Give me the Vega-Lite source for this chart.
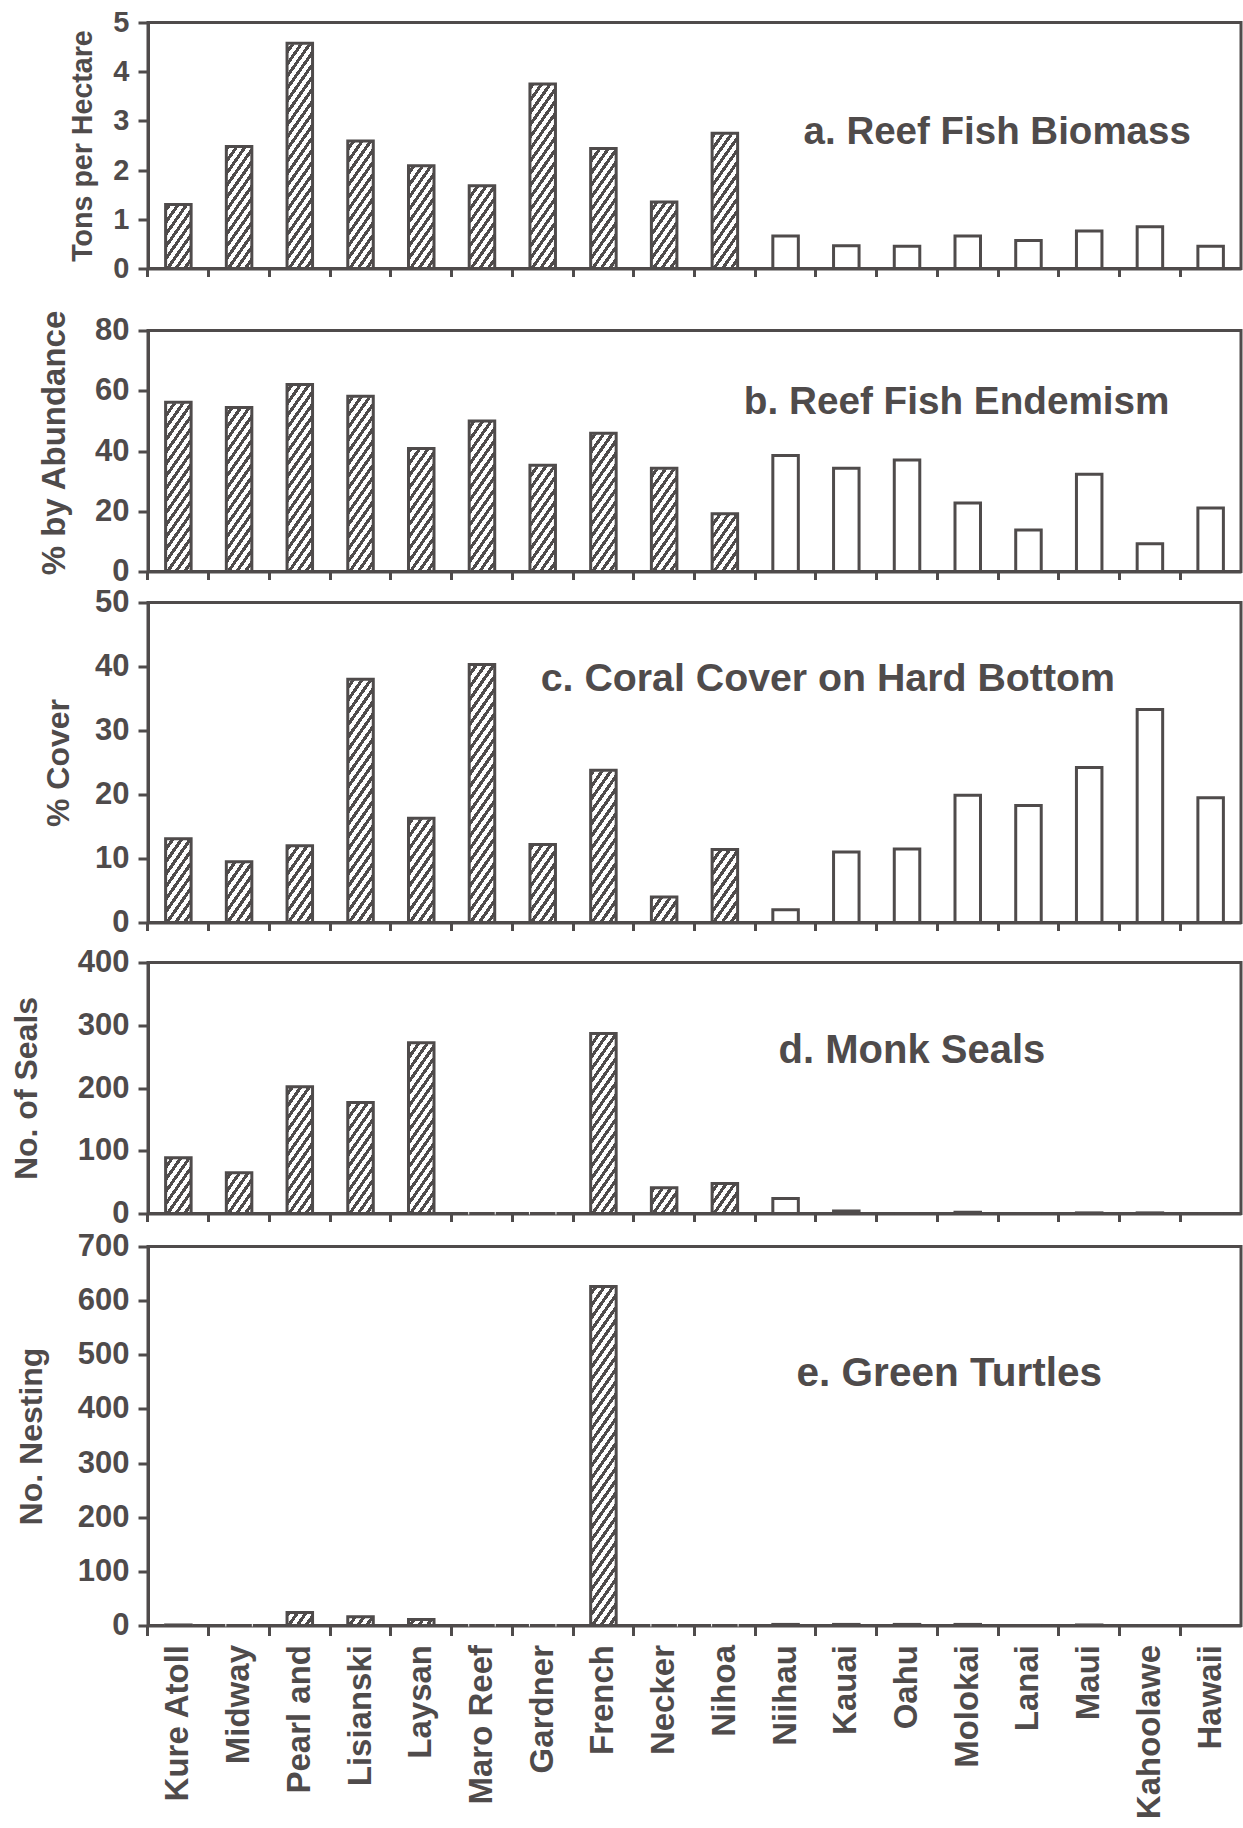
{
"$schema": "https://vega.github.io/schema/vega-lite/v6.json",
"background": "white",
"padding": {"left": 0, "top": 6.5, "right": 3, "bottom": 2},
"spacing": -6,
"datasets": {"islands": [
{"island": "Kure Atoll", "region": "NWHI", "biomass": 1.3, "endemism": 56.2, "coral": 13.1, "seals": 89, "turtles": 1},
{"island": "Midway", "region": "NWHI", "biomass": 2.48, "endemism": 54.4, "coral": 9.5, "seals": 65, "turtles": 0},
{"island": "Pearl and", "region": "NWHI", "biomass": 4.58, "endemism": 62.1, "coral": 12.0, "seals": 202, "turtles": 24},
{"island": "Lisianski", "region": "NWHI", "biomass": 2.59, "endemism": 58.2, "coral": 38.0, "seals": 177, "turtles": 16},
{"island": "Laysan", "region": "NWHI", "biomass": 2.09, "endemism": 40.8, "coral": 16.3, "seals": 272, "turtles": 11},
{"island": "Maro Reef", "region": "NWHI", "biomass": 1.68, "endemism": 50.0, "coral": 40.3, "seals": 0, "turtles": 0},
{"island": "Gardner", "region": "NWHI", "biomass": 3.75, "endemism": 35.3, "coral": 12.2, "seals": 0, "turtles": 0},
{"island": "French", "region": "NWHI", "biomass": 2.44, "endemism": 45.9, "coral": 23.8, "seals": 287, "turtles": 626},
{"island": "Necker", "region": "NWHI", "biomass": 1.35, "endemism": 34.3, "coral": 4.0, "seals": 41, "turtles": 0},
{"island": "Nihoa", "region": "NWHI", "biomass": 2.75, "endemism": 19.2, "coral": 11.4, "seals": 48, "turtles": 0},
{"island": "Niihau", "region": "MHI", "biomass": 0.66, "endemism": 38.5, "coral": 2.0, "seals": 24, "turtles": 2},
{"island": "Kauai", "region": "MHI", "biomass": 0.46, "endemism": 34.3, "coral": 11.0, "seals": 4, "turtles": 2},
{"island": "Oahu", "region": "MHI", "biomass": 0.45, "endemism": 37.0, "coral": 11.5, "seals": 0, "turtles": 2},
{"island": "Molokai", "region": "MHI", "biomass": 0.66, "endemism": 22.7, "coral": 19.9, "seals": 2, "turtles": 2},
{"island": "Lanai", "region": "MHI", "biomass": 0.57, "endemism": 13.8, "coral": 18.3, "seals": 0, "turtles": 0},
{"island": "Maui", "region": "MHI", "biomass": 0.76, "endemism": 32.3, "coral": 24.2, "seals": 1, "turtles": 1},
{"island": "Kahoolawe", "region": "MHI", "biomass": 0.85, "endemism": 9.2, "coral": 33.3, "seals": 1, "turtles": 0},
{"island": "Hawaii", "region": "MHI", "biomass": 0.45, "endemism": 21.1, "coral": 19.5, "seals": 0, "turtles": 0}
]},
"vconcat": [
{
 "width": 1093, "height": 246,
 "data": {"name": "islands"},
 "encoding": {"x": {"field": "island", "type": "nominal", "scale": {"domain": ["Kure Atoll","Midway","Pearl and","Lisianski","Laysan","Maro Reef","Gardner","French","Necker","Nihoa","Niihau","Kauai","Oahu","Molokai","Lanai","Maui","Kahoolawe","Hawaii"], "paddingInner": 0.58, "paddingOuter": 0.29}, "axis": {"title": null, "labels": false, "minExtent": 42.8, "maxExtent": 42.8}}},
 "layer": [
  {"transform": [{"filter": "datum.region == 'NWHI'"}],
   "mark": {"type": "bar", "strokeWidth": 0, "fill": {"gradient": "linear", "x1": 0, "y1": 0, "x2": 0.1781, "y2": 1.1296, "stops": [
{"offset":0,"color":"#4f4b4b"},{"offset":0.02045,"color":"#4f4b4b"},{"offset":0.02045,"color":"#fff"},{"offset":0.04545,"color":"#fff"},
{"offset":0.04545,"color":"#4f4b4b"},{"offset":0.06591,"color":"#4f4b4b"},{"offset":0.06591,"color":"#fff"},{"offset":0.09091,"color":"#fff"},
{"offset":0.09091,"color":"#4f4b4b"},{"offset":0.11136,"color":"#4f4b4b"},{"offset":0.11136,"color":"#fff"},{"offset":0.13636,"color":"#fff"},
{"offset":0.13636,"color":"#4f4b4b"},{"offset":0.15682,"color":"#4f4b4b"},{"offset":0.15682,"color":"#fff"},{"offset":0.18182,"color":"#fff"},
{"offset":0.18182,"color":"#4f4b4b"},{"offset":0.20227,"color":"#4f4b4b"},{"offset":0.20227,"color":"#fff"},{"offset":0.22727,"color":"#fff"},
{"offset":0.22727,"color":"#4f4b4b"},{"offset":0.24773,"color":"#4f4b4b"},{"offset":0.24773,"color":"#fff"},{"offset":0.27273,"color":"#fff"},
{"offset":0.27273,"color":"#4f4b4b"},{"offset":0.29318,"color":"#4f4b4b"},{"offset":0.29318,"color":"#fff"},{"offset":0.31818,"color":"#fff"},
{"offset":0.31818,"color":"#4f4b4b"},{"offset":0.33864,"color":"#4f4b4b"},{"offset":0.33864,"color":"#fff"},{"offset":0.36364,"color":"#fff"},
{"offset":0.36364,"color":"#4f4b4b"},{"offset":0.38409,"color":"#4f4b4b"},{"offset":0.38409,"color":"#fff"},{"offset":0.40909,"color":"#fff"},
{"offset":0.40909,"color":"#4f4b4b"},{"offset":0.42955,"color":"#4f4b4b"},{"offset":0.42955,"color":"#fff"},{"offset":0.45455,"color":"#fff"},
{"offset":0.45455,"color":"#4f4b4b"},{"offset":0.475,"color":"#4f4b4b"},{"offset":0.475,"color":"#fff"},{"offset":0.5,"color":"#fff"},
{"offset":0.5,"color":"#4f4b4b"},{"offset":0.52045,"color":"#4f4b4b"},{"offset":0.52045,"color":"#fff"},{"offset":0.54545,"color":"#fff"},
{"offset":0.54545,"color":"#4f4b4b"},{"offset":0.56591,"color":"#4f4b4b"},{"offset":0.56591,"color":"#fff"},{"offset":0.59091,"color":"#fff"},
{"offset":0.59091,"color":"#4f4b4b"},{"offset":0.61136,"color":"#4f4b4b"},{"offset":0.61136,"color":"#fff"},{"offset":0.63636,"color":"#fff"},
{"offset":0.63636,"color":"#4f4b4b"},{"offset":0.65682,"color":"#4f4b4b"},{"offset":0.65682,"color":"#fff"},{"offset":0.68182,"color":"#fff"},
{"offset":0.68182,"color":"#4f4b4b"},{"offset":0.70227,"color":"#4f4b4b"},{"offset":0.70227,"color":"#fff"},{"offset":0.72727,"color":"#fff"},
{"offset":0.72727,"color":"#4f4b4b"},{"offset":0.74773,"color":"#4f4b4b"},{"offset":0.74773,"color":"#fff"},{"offset":0.77273,"color":"#fff"},
{"offset":0.77273,"color":"#4f4b4b"},{"offset":0.79318,"color":"#4f4b4b"},{"offset":0.79318,"color":"#fff"},{"offset":0.81818,"color":"#fff"},
{"offset":0.81818,"color":"#4f4b4b"},{"offset":0.83864,"color":"#4f4b4b"},{"offset":0.83864,"color":"#fff"},{"offset":0.86364,"color":"#fff"},
{"offset":0.86364,"color":"#4f4b4b"},{"offset":0.88409,"color":"#4f4b4b"},{"offset":0.88409,"color":"#fff"},{"offset":0.90909,"color":"#fff"},
{"offset":0.90909,"color":"#4f4b4b"},{"offset":0.92955,"color":"#4f4b4b"},{"offset":0.92955,"color":"#fff"},{"offset":0.95455,"color":"#fff"},
{"offset":0.95455,"color":"#4f4b4b"},{"offset":0.975,"color":"#4f4b4b"},{"offset":0.975,"color":"#fff"},{"offset":1,"color":"#fff"}
   ]}},
   "encoding": {"y": {"datum": 0}, "y2": {"datum": 4.7}}},
  {"transform": [{"filter": "datum.region == 'NWHI'"}],
   "mark": {"type": "bar", "fill": "#ffffff", "stroke": "#ffffff", "strokeWidth": 2},
   "encoding": {"y": {"field": "biomass", "type": "quantitative"}, "y2": {"datum": 4.7}}},
  {"mark": {"type": "bar", "fill": "transparent", "stroke": "#4f4b4b", "strokeWidth": 3},
   "encoding": {"y": {"field": "biomass", "type": "quantitative", "scale": {"domain": [0, 5], "nice": false},
     "axis": {"values": [0,1,2,3,4,5], "title": "Tons per Hectare", "titleFontSize": 28.6, "labelFontSize": 29, "titleX": -66}}}},
  {"data": {"values": [{"label": "a. Reef Fish Biomass"}]},
   "mark": {"type": "text", "align": "left", "baseline": "middle", "dx": 18, "fontSize": 38.5, "fontWeight": "bold", "font": "Liberation Sans", "fill": "#4f4b4b"},
   "encoding": {"x": {"datum": "Niihau"}, "y": {"datum": 2.77}, "text": {"field": "label"}}}
 ]
},
{
 "width": 1093, "height": 241,
 "data": {"name": "islands"},
 "encoding": {"x": {"field": "island", "type": "nominal", "scale": {"domain": ["Kure Atoll","Midway","Pearl and","Lisianski","Laysan","Maro Reef","Gardner","French","Necker","Nihoa","Niihau","Kauai","Oahu","Molokai","Lanai","Maui","Kahoolawe","Hawaii"], "paddingInner": 0.58, "paddingOuter": 0.29}, "axis": {"title": null, "labels": false, "minExtent": 17.3, "maxExtent": 17.3}}},
 "layer": [
  {"transform": [{"filter": "datum.region == 'NWHI'"}],
   "mark": {"type": "bar", "strokeWidth": 0, "fill": {"gradient": "linear", "x1": 0, "y1": 0, "x2": 0.1781, "y2": 1.1296, "stops": [
{"offset":0,"color":"#4f4b4b"},{"offset":0.02045,"color":"#4f4b4b"},{"offset":0.02045,"color":"#fff"},{"offset":0.04545,"color":"#fff"},
{"offset":0.04545,"color":"#4f4b4b"},{"offset":0.06591,"color":"#4f4b4b"},{"offset":0.06591,"color":"#fff"},{"offset":0.09091,"color":"#fff"},
{"offset":0.09091,"color":"#4f4b4b"},{"offset":0.11136,"color":"#4f4b4b"},{"offset":0.11136,"color":"#fff"},{"offset":0.13636,"color":"#fff"},
{"offset":0.13636,"color":"#4f4b4b"},{"offset":0.15682,"color":"#4f4b4b"},{"offset":0.15682,"color":"#fff"},{"offset":0.18182,"color":"#fff"},
{"offset":0.18182,"color":"#4f4b4b"},{"offset":0.20227,"color":"#4f4b4b"},{"offset":0.20227,"color":"#fff"},{"offset":0.22727,"color":"#fff"},
{"offset":0.22727,"color":"#4f4b4b"},{"offset":0.24773,"color":"#4f4b4b"},{"offset":0.24773,"color":"#fff"},{"offset":0.27273,"color":"#fff"},
{"offset":0.27273,"color":"#4f4b4b"},{"offset":0.29318,"color":"#4f4b4b"},{"offset":0.29318,"color":"#fff"},{"offset":0.31818,"color":"#fff"},
{"offset":0.31818,"color":"#4f4b4b"},{"offset":0.33864,"color":"#4f4b4b"},{"offset":0.33864,"color":"#fff"},{"offset":0.36364,"color":"#fff"},
{"offset":0.36364,"color":"#4f4b4b"},{"offset":0.38409,"color":"#4f4b4b"},{"offset":0.38409,"color":"#fff"},{"offset":0.40909,"color":"#fff"},
{"offset":0.40909,"color":"#4f4b4b"},{"offset":0.42955,"color":"#4f4b4b"},{"offset":0.42955,"color":"#fff"},{"offset":0.45455,"color":"#fff"},
{"offset":0.45455,"color":"#4f4b4b"},{"offset":0.475,"color":"#4f4b4b"},{"offset":0.475,"color":"#fff"},{"offset":0.5,"color":"#fff"},
{"offset":0.5,"color":"#4f4b4b"},{"offset":0.52045,"color":"#4f4b4b"},{"offset":0.52045,"color":"#fff"},{"offset":0.54545,"color":"#fff"},
{"offset":0.54545,"color":"#4f4b4b"},{"offset":0.56591,"color":"#4f4b4b"},{"offset":0.56591,"color":"#fff"},{"offset":0.59091,"color":"#fff"},
{"offset":0.59091,"color":"#4f4b4b"},{"offset":0.61136,"color":"#4f4b4b"},{"offset":0.61136,"color":"#fff"},{"offset":0.63636,"color":"#fff"},
{"offset":0.63636,"color":"#4f4b4b"},{"offset":0.65682,"color":"#4f4b4b"},{"offset":0.65682,"color":"#fff"},{"offset":0.68182,"color":"#fff"},
{"offset":0.68182,"color":"#4f4b4b"},{"offset":0.70227,"color":"#4f4b4b"},{"offset":0.70227,"color":"#fff"},{"offset":0.72727,"color":"#fff"},
{"offset":0.72727,"color":"#4f4b4b"},{"offset":0.74773,"color":"#4f4b4b"},{"offset":0.74773,"color":"#fff"},{"offset":0.77273,"color":"#fff"},
{"offset":0.77273,"color":"#4f4b4b"},{"offset":0.79318,"color":"#4f4b4b"},{"offset":0.79318,"color":"#fff"},{"offset":0.81818,"color":"#fff"},
{"offset":0.81818,"color":"#4f4b4b"},{"offset":0.83864,"color":"#4f4b4b"},{"offset":0.83864,"color":"#fff"},{"offset":0.86364,"color":"#fff"},
{"offset":0.86364,"color":"#4f4b4b"},{"offset":0.88409,"color":"#4f4b4b"},{"offset":0.88409,"color":"#fff"},{"offset":0.90909,"color":"#fff"},
{"offset":0.90909,"color":"#4f4b4b"},{"offset":0.92955,"color":"#4f4b4b"},{"offset":0.92955,"color":"#fff"},{"offset":0.95455,"color":"#fff"},
{"offset":0.95455,"color":"#4f4b4b"},{"offset":0.975,"color":"#4f4b4b"},{"offset":0.975,"color":"#fff"},{"offset":1,"color":"#fff"}
   ]}},
   "encoding": {"y": {"datum": 0}, "y2": {"datum": 76.75}}},
  {"transform": [{"filter": "datum.region == 'NWHI'"}],
   "mark": {"type": "bar", "fill": "#ffffff", "stroke": "#ffffff", "strokeWidth": 2},
   "encoding": {"y": {"field": "endemism", "type": "quantitative"}, "y2": {"datum": 76.75}}},
  {"mark": {"type": "bar", "fill": "transparent", "stroke": "#4f4b4b", "strokeWidth": 3},
   "encoding": {"y": {"field": "endemism", "type": "quantitative", "scale": {"domain": [0, 80], "nice": false},
     "axis": {"values": [0,20,40,60,80], "title": "% by Abundance", "titleFontSize": 33, "titleX": -94, "titleY": 112}}}},
  {"data": {"values": [{"label": "b. Reef Fish Endemism"}]},
   "mark": {"type": "text", "align": "left", "baseline": "middle", "dx": 19, "fontSize": 38.7, "fontWeight": "bold", "font": "Liberation Sans", "fill": "#4f4b4b"},
   "encoding": {"x": {"datum": "Nihoa"}, "y": {"datum": 56.4}, "text": {"field": "label"}}}
 ]
},
{
 "width": 1093, "height": 320,
 "data": {"name": "islands"},
 "encoding": {"x": {"field": "island", "type": "nominal", "scale": {"domain": ["Kure Atoll","Midway","Pearl and","Lisianski","Laysan","Maro Reef","Gardner","French","Necker","Nihoa","Niihau","Kauai","Oahu","Molokai","Lanai","Maui","Kahoolawe","Hawaii"], "paddingInner": 0.58, "paddingOuter": 0.29}, "axis": {"title": null, "labels": false, "minExtent": 26.5, "maxExtent": 26.5}}},
 "layer": [
  {"transform": [{"filter": "datum.region == 'NWHI'"}],
   "mark": {"type": "bar", "strokeWidth": 0, "fill": {"gradient": "linear", "x1": 0, "y1": 0, "x2": 0.1552, "y2": 1.1173, "stops": [
{"offset":0,"color":"#4f4b4b"},{"offset":0.01875,"color":"#4f4b4b"},{"offset":0.01875,"color":"#fff"},{"offset":0.04167,"color":"#fff"},
{"offset":0.04167,"color":"#4f4b4b"},{"offset":0.06042,"color":"#4f4b4b"},{"offset":0.06042,"color":"#fff"},{"offset":0.08333,"color":"#fff"},
{"offset":0.08333,"color":"#4f4b4b"},{"offset":0.10208,"color":"#4f4b4b"},{"offset":0.10208,"color":"#fff"},{"offset":0.125,"color":"#fff"},
{"offset":0.125,"color":"#4f4b4b"},{"offset":0.14375,"color":"#4f4b4b"},{"offset":0.14375,"color":"#fff"},{"offset":0.16667,"color":"#fff"},
{"offset":0.16667,"color":"#4f4b4b"},{"offset":0.18542,"color":"#4f4b4b"},{"offset":0.18542,"color":"#fff"},{"offset":0.20833,"color":"#fff"},
{"offset":0.20833,"color":"#4f4b4b"},{"offset":0.22708,"color":"#4f4b4b"},{"offset":0.22708,"color":"#fff"},{"offset":0.25,"color":"#fff"},
{"offset":0.25,"color":"#4f4b4b"},{"offset":0.26875,"color":"#4f4b4b"},{"offset":0.26875,"color":"#fff"},{"offset":0.29167,"color":"#fff"},
{"offset":0.29167,"color":"#4f4b4b"},{"offset":0.31042,"color":"#4f4b4b"},{"offset":0.31042,"color":"#fff"},{"offset":0.33333,"color":"#fff"},
{"offset":0.33333,"color":"#4f4b4b"},{"offset":0.35208,"color":"#4f4b4b"},{"offset":0.35208,"color":"#fff"},{"offset":0.375,"color":"#fff"},
{"offset":0.375,"color":"#4f4b4b"},{"offset":0.39375,"color":"#4f4b4b"},{"offset":0.39375,"color":"#fff"},{"offset":0.41667,"color":"#fff"},
{"offset":0.41667,"color":"#4f4b4b"},{"offset":0.43542,"color":"#4f4b4b"},{"offset":0.43542,"color":"#fff"},{"offset":0.45833,"color":"#fff"},
{"offset":0.45833,"color":"#4f4b4b"},{"offset":0.47708,"color":"#4f4b4b"},{"offset":0.47708,"color":"#fff"},{"offset":0.5,"color":"#fff"},
{"offset":0.5,"color":"#4f4b4b"},{"offset":0.51875,"color":"#4f4b4b"},{"offset":0.51875,"color":"#fff"},{"offset":0.54167,"color":"#fff"},
{"offset":0.54167,"color":"#4f4b4b"},{"offset":0.56042,"color":"#4f4b4b"},{"offset":0.56042,"color":"#fff"},{"offset":0.58333,"color":"#fff"},
{"offset":0.58333,"color":"#4f4b4b"},{"offset":0.60208,"color":"#4f4b4b"},{"offset":0.60208,"color":"#fff"},{"offset":0.625,"color":"#fff"},
{"offset":0.625,"color":"#4f4b4b"},{"offset":0.64375,"color":"#4f4b4b"},{"offset":0.64375,"color":"#fff"},{"offset":0.66667,"color":"#fff"},
{"offset":0.66667,"color":"#4f4b4b"},{"offset":0.68542,"color":"#4f4b4b"},{"offset":0.68542,"color":"#fff"},{"offset":0.70833,"color":"#fff"},
{"offset":0.70833,"color":"#4f4b4b"},{"offset":0.72708,"color":"#4f4b4b"},{"offset":0.72708,"color":"#fff"},{"offset":0.75,"color":"#fff"},
{"offset":0.75,"color":"#4f4b4b"},{"offset":0.76875,"color":"#4f4b4b"},{"offset":0.76875,"color":"#fff"},{"offset":0.79167,"color":"#fff"},
{"offset":0.79167,"color":"#4f4b4b"},{"offset":0.81042,"color":"#4f4b4b"},{"offset":0.81042,"color":"#fff"},{"offset":0.83333,"color":"#fff"},
{"offset":0.83333,"color":"#4f4b4b"},{"offset":0.85208,"color":"#4f4b4b"},{"offset":0.85208,"color":"#fff"},{"offset":0.875,"color":"#fff"},
{"offset":0.875,"color":"#4f4b4b"},{"offset":0.89375,"color":"#4f4b4b"},{"offset":0.89375,"color":"#fff"},{"offset":0.91667,"color":"#fff"},
{"offset":0.91667,"color":"#4f4b4b"},{"offset":0.93542,"color":"#4f4b4b"},{"offset":0.93542,"color":"#fff"},{"offset":0.95833,"color":"#fff"},
{"offset":0.95833,"color":"#4f4b4b"},{"offset":0.97708,"color":"#4f4b4b"},{"offset":0.97708,"color":"#fff"},{"offset":1,"color":"#fff"}
   ]}},
   "encoding": {"y": {"datum": 0}, "y2": {"datum": 41}}},
  {"transform": [{"filter": "datum.region == 'NWHI'"}],
   "mark": {"type": "bar", "fill": "#ffffff", "stroke": "#ffffff", "strokeWidth": 2},
   "encoding": {"y": {"field": "coral", "type": "quantitative"}, "y2": {"datum": 41}}},
  {"mark": {"type": "bar", "fill": "transparent", "stroke": "#4f4b4b", "strokeWidth": 3},
   "encoding": {"y": {"field": "coral", "type": "quantitative", "scale": {"domain": [0, 50], "nice": false},
     "axis": {"values": [0,10,20,30,40,50], "title": "% Cover", "titleX": -90}}}},
  {"data": {"values": [{"label": "c. Coral Cover on Hard Bottom"}]},
   "mark": {"type": "text", "align": "left", "baseline": "middle", "dx": -2, "fontSize": 39.3, "fontWeight": "bold", "font": "Liberation Sans", "fill": "#4f4b4b"},
   "encoding": {"x": {"datum": "Gardner"}, "y": {"datum": 38.0}, "text": {"field": "label"}}}
 ]
},
{
 "width": 1093, "height": 251,
 "data": {"name": "islands"},
 "encoding": {"x": {"field": "island", "type": "nominal", "scale": {"domain": ["Kure Atoll","Midway","Pearl and","Lisianski","Laysan","Maro Reef","Gardner","French","Necker","Nihoa","Niihau","Kauai","Oahu","Molokai","Lanai","Maui","Kahoolawe","Hawaii"], "paddingInner": 0.58, "paddingOuter": 0.29}, "axis": {"title": null, "labels": false, "minExtent": 19.4, "maxExtent": 19.4}}},
 "layer": [
  {"transform": [{"filter": "datum.region == 'NWHI'"}],
   "mark": {"type": "bar", "strokeWidth": 0, "fill": {"gradient": "linear", "x1": 0, "y1": 0, "x2": 0.1781, "y2": 1.1296, "stops": [
{"offset":0,"color":"#4f4b4b"},{"offset":0.02045,"color":"#4f4b4b"},{"offset":0.02045,"color":"#fff"},{"offset":0.04545,"color":"#fff"},
{"offset":0.04545,"color":"#4f4b4b"},{"offset":0.06591,"color":"#4f4b4b"},{"offset":0.06591,"color":"#fff"},{"offset":0.09091,"color":"#fff"},
{"offset":0.09091,"color":"#4f4b4b"},{"offset":0.11136,"color":"#4f4b4b"},{"offset":0.11136,"color":"#fff"},{"offset":0.13636,"color":"#fff"},
{"offset":0.13636,"color":"#4f4b4b"},{"offset":0.15682,"color":"#4f4b4b"},{"offset":0.15682,"color":"#fff"},{"offset":0.18182,"color":"#fff"},
{"offset":0.18182,"color":"#4f4b4b"},{"offset":0.20227,"color":"#4f4b4b"},{"offset":0.20227,"color":"#fff"},{"offset":0.22727,"color":"#fff"},
{"offset":0.22727,"color":"#4f4b4b"},{"offset":0.24773,"color":"#4f4b4b"},{"offset":0.24773,"color":"#fff"},{"offset":0.27273,"color":"#fff"},
{"offset":0.27273,"color":"#4f4b4b"},{"offset":0.29318,"color":"#4f4b4b"},{"offset":0.29318,"color":"#fff"},{"offset":0.31818,"color":"#fff"},
{"offset":0.31818,"color":"#4f4b4b"},{"offset":0.33864,"color":"#4f4b4b"},{"offset":0.33864,"color":"#fff"},{"offset":0.36364,"color":"#fff"},
{"offset":0.36364,"color":"#4f4b4b"},{"offset":0.38409,"color":"#4f4b4b"},{"offset":0.38409,"color":"#fff"},{"offset":0.40909,"color":"#fff"},
{"offset":0.40909,"color":"#4f4b4b"},{"offset":0.42955,"color":"#4f4b4b"},{"offset":0.42955,"color":"#fff"},{"offset":0.45455,"color":"#fff"},
{"offset":0.45455,"color":"#4f4b4b"},{"offset":0.475,"color":"#4f4b4b"},{"offset":0.475,"color":"#fff"},{"offset":0.5,"color":"#fff"},
{"offset":0.5,"color":"#4f4b4b"},{"offset":0.52045,"color":"#4f4b4b"},{"offset":0.52045,"color":"#fff"},{"offset":0.54545,"color":"#fff"},
{"offset":0.54545,"color":"#4f4b4b"},{"offset":0.56591,"color":"#4f4b4b"},{"offset":0.56591,"color":"#fff"},{"offset":0.59091,"color":"#fff"},
{"offset":0.59091,"color":"#4f4b4b"},{"offset":0.61136,"color":"#4f4b4b"},{"offset":0.61136,"color":"#fff"},{"offset":0.63636,"color":"#fff"},
{"offset":0.63636,"color":"#4f4b4b"},{"offset":0.65682,"color":"#4f4b4b"},{"offset":0.65682,"color":"#fff"},{"offset":0.68182,"color":"#fff"},
{"offset":0.68182,"color":"#4f4b4b"},{"offset":0.70227,"color":"#4f4b4b"},{"offset":0.70227,"color":"#fff"},{"offset":0.72727,"color":"#fff"},
{"offset":0.72727,"color":"#4f4b4b"},{"offset":0.74773,"color":"#4f4b4b"},{"offset":0.74773,"color":"#fff"},{"offset":0.77273,"color":"#fff"},
{"offset":0.77273,"color":"#4f4b4b"},{"offset":0.79318,"color":"#4f4b4b"},{"offset":0.79318,"color":"#fff"},{"offset":0.81818,"color":"#fff"},
{"offset":0.81818,"color":"#4f4b4b"},{"offset":0.83864,"color":"#4f4b4b"},{"offset":0.83864,"color":"#fff"},{"offset":0.86364,"color":"#fff"},
{"offset":0.86364,"color":"#4f4b4b"},{"offset":0.88409,"color":"#4f4b4b"},{"offset":0.88409,"color":"#fff"},{"offset":0.90909,"color":"#fff"},
{"offset":0.90909,"color":"#4f4b4b"},{"offset":0.92955,"color":"#4f4b4b"},{"offset":0.92955,"color":"#fff"},{"offset":0.95455,"color":"#fff"},
{"offset":0.95455,"color":"#4f4b4b"},{"offset":0.975,"color":"#4f4b4b"},{"offset":0.975,"color":"#fff"},{"offset":1,"color":"#fff"}
   ]}},
   "encoding": {"y": {"datum": 0}, "y2": {"datum": 368.4}}},
  {"transform": [{"filter": "datum.region == 'NWHI'"}],
   "mark": {"type": "bar", "fill": "#ffffff", "stroke": "#ffffff", "strokeWidth": 2},
   "encoding": {"y": {"field": "seals", "type": "quantitative"}, "y2": {"datum": 368.4}}},
  {"mark": {"type": "bar", "fill": "transparent", "stroke": "#4f4b4b", "strokeWidth": 3},
   "encoding": {"y": {"field": "seals", "type": "quantitative", "scale": {"domain": [0, 400], "nice": false},
     "axis": {"values": [0,100,200,300,400], "title": "No. of Seals", "titleX": -122}}}},
  {"data": {"values": [{"label": "d. Monk Seals"}]},
   "mark": {"type": "text", "align": "left", "baseline": "middle", "dx": -7, "fontSize": 40, "fontWeight": "bold", "font": "Liberation Sans", "fill": "#4f4b4b"},
   "encoding": {"x": {"datum": "Niihau"}, "y": {"datum": 258.6}, "text": {"field": "label"}}}
 ]
},
{
 "width": 1093, "height": 379,
 "data": {"name": "islands"},
 "encoding": {"x": {"field": "island", "type": "nominal", "scale": {"domain": ["Kure Atoll","Midway","Pearl and","Lisianski","Laysan","Maro Reef","Gardner","French","Necker","Nihoa","Niihau","Kauai","Oahu","Molokai","Lanai","Maui","Kahoolawe","Hawaii"], "paddingInner": 0.58, "paddingOuter": 0.29}, "axis": {"title": null, "labels": true, "labelAngle": 270, "labelAlign": "right", "labelBaseline": "middle", "labelFontSize": 33, "labelPadding": 9, "labelOffset": 0, "tickSize": 10}}},
 "layer": [
  {"transform": [{"filter": "datum.region == 'NWHI'"}],
   "mark": {"type": "bar", "strokeWidth": 0, "fill": {"gradient": "linear", "x1": 0, "y1": 0, "x2": 0.115, "y2": 1.0931, "stops": [
{"offset":0,"color":"#4f4b4b"},{"offset":0.01452,"color":"#4f4b4b"},{"offset":0.01452,"color":"#fff"},{"offset":0.03226,"color":"#fff"},
{"offset":0.03226,"color":"#4f4b4b"},{"offset":0.04677,"color":"#4f4b4b"},{"offset":0.04677,"color":"#fff"},{"offset":0.06452,"color":"#fff"},
{"offset":0.06452,"color":"#4f4b4b"},{"offset":0.07903,"color":"#4f4b4b"},{"offset":0.07903,"color":"#fff"},{"offset":0.09677,"color":"#fff"},
{"offset":0.09677,"color":"#4f4b4b"},{"offset":0.11129,"color":"#4f4b4b"},{"offset":0.11129,"color":"#fff"},{"offset":0.12903,"color":"#fff"},
{"offset":0.12903,"color":"#4f4b4b"},{"offset":0.14355,"color":"#4f4b4b"},{"offset":0.14355,"color":"#fff"},{"offset":0.16129,"color":"#fff"},
{"offset":0.16129,"color":"#4f4b4b"},{"offset":0.17581,"color":"#4f4b4b"},{"offset":0.17581,"color":"#fff"},{"offset":0.19355,"color":"#fff"},
{"offset":0.19355,"color":"#4f4b4b"},{"offset":0.20806,"color":"#4f4b4b"},{"offset":0.20806,"color":"#fff"},{"offset":0.22581,"color":"#fff"},
{"offset":0.22581,"color":"#4f4b4b"},{"offset":0.24032,"color":"#4f4b4b"},{"offset":0.24032,"color":"#fff"},{"offset":0.25806,"color":"#fff"},
{"offset":0.25806,"color":"#4f4b4b"},{"offset":0.27258,"color":"#4f4b4b"},{"offset":0.27258,"color":"#fff"},{"offset":0.29032,"color":"#fff"},
{"offset":0.29032,"color":"#4f4b4b"},{"offset":0.30484,"color":"#4f4b4b"},{"offset":0.30484,"color":"#fff"},{"offset":0.32258,"color":"#fff"},
{"offset":0.32258,"color":"#4f4b4b"},{"offset":0.3371,"color":"#4f4b4b"},{"offset":0.3371,"color":"#fff"},{"offset":0.35484,"color":"#fff"},
{"offset":0.35484,"color":"#4f4b4b"},{"offset":0.36935,"color":"#4f4b4b"},{"offset":0.36935,"color":"#fff"},{"offset":0.3871,"color":"#fff"},
{"offset":0.3871,"color":"#4f4b4b"},{"offset":0.40161,"color":"#4f4b4b"},{"offset":0.40161,"color":"#fff"},{"offset":0.41935,"color":"#fff"},
{"offset":0.41935,"color":"#4f4b4b"},{"offset":0.43387,"color":"#4f4b4b"},{"offset":0.43387,"color":"#fff"},{"offset":0.45161,"color":"#fff"},
{"offset":0.45161,"color":"#4f4b4b"},{"offset":0.46613,"color":"#4f4b4b"},{"offset":0.46613,"color":"#fff"},{"offset":0.48387,"color":"#fff"},
{"offset":0.48387,"color":"#4f4b4b"},{"offset":0.49839,"color":"#4f4b4b"},{"offset":0.49839,"color":"#fff"},{"offset":0.51613,"color":"#fff"},
{"offset":0.51613,"color":"#4f4b4b"},{"offset":0.53065,"color":"#4f4b4b"},{"offset":0.53065,"color":"#fff"},{"offset":0.54839,"color":"#fff"},
{"offset":0.54839,"color":"#4f4b4b"},{"offset":0.5629,"color":"#4f4b4b"},{"offset":0.5629,"color":"#fff"},{"offset":0.58065,"color":"#fff"},
{"offset":0.58065,"color":"#4f4b4b"},{"offset":0.59516,"color":"#4f4b4b"},{"offset":0.59516,"color":"#fff"},{"offset":0.6129,"color":"#fff"},
{"offset":0.6129,"color":"#4f4b4b"},{"offset":0.62742,"color":"#4f4b4b"},{"offset":0.62742,"color":"#fff"},{"offset":0.64516,"color":"#fff"},
{"offset":0.64516,"color":"#4f4b4b"},{"offset":0.65968,"color":"#4f4b4b"},{"offset":0.65968,"color":"#fff"},{"offset":0.67742,"color":"#fff"},
{"offset":0.67742,"color":"#4f4b4b"},{"offset":0.69194,"color":"#4f4b4b"},{"offset":0.69194,"color":"#fff"},{"offset":0.70968,"color":"#fff"},
{"offset":0.70968,"color":"#4f4b4b"},{"offset":0.72419,"color":"#4f4b4b"},{"offset":0.72419,"color":"#fff"},{"offset":0.74194,"color":"#fff"},
{"offset":0.74194,"color":"#4f4b4b"},{"offset":0.75645,"color":"#4f4b4b"},{"offset":0.75645,"color":"#fff"},{"offset":0.77419,"color":"#fff"},
{"offset":0.77419,"color":"#4f4b4b"},{"offset":0.78871,"color":"#4f4b4b"},{"offset":0.78871,"color":"#fff"},{"offset":0.80645,"color":"#fff"},
{"offset":0.80645,"color":"#4f4b4b"},{"offset":0.82097,"color":"#4f4b4b"},{"offset":0.82097,"color":"#fff"},{"offset":0.83871,"color":"#fff"},
{"offset":0.83871,"color":"#4f4b4b"},{"offset":0.85323,"color":"#4f4b4b"},{"offset":0.85323,"color":"#fff"},{"offset":0.87097,"color":"#fff"},
{"offset":0.87097,"color":"#4f4b4b"},{"offset":0.88548,"color":"#4f4b4b"},{"offset":0.88548,"color":"#fff"},{"offset":0.90323,"color":"#fff"},
{"offset":0.90323,"color":"#4f4b4b"},{"offset":0.91774,"color":"#4f4b4b"},{"offset":0.91774,"color":"#fff"},{"offset":0.93548,"color":"#fff"},
{"offset":0.93548,"color":"#4f4b4b"},{"offset":0.95,"color":"#4f4b4b"},{"offset":0.95,"color":"#fff"},{"offset":0.96774,"color":"#fff"},
{"offset":0.96774,"color":"#4f4b4b"},{"offset":0.98226,"color":"#4f4b4b"},{"offset":0.98226,"color":"#fff"},{"offset":1,"color":"#fff"}
   ]}},
   "encoding": {"y": {"datum": 0}, "y2": {"datum": 640}}},
  {"transform": [{"filter": "datum.region == 'NWHI'"}],
   "mark": {"type": "bar", "fill": "#ffffff", "stroke": "#ffffff", "strokeWidth": 2},
   "encoding": {"y": {"field": "turtles", "type": "quantitative"}, "y2": {"datum": 640}}},
  {"mark": {"type": "bar", "fill": "transparent", "stroke": "#4f4b4b", "strokeWidth": 3},
   "encoding": {"y": {"field": "turtles", "type": "quantitative", "scale": {"domain": [0, 700], "nice": false},
     "axis": {"values": [0,100,200,300,400,500,600,700], "title": "No. Nesting", "titleX": -117}}}},
  {"data": {"values": [{"label": "e. Green Turtles"}]},
   "mark": {"type": "text", "align": "left", "baseline": "middle", "dx": 11, "fontSize": 40.5, "fontWeight": "bold", "font": "Liberation Sans", "fill": "#4f4b4b"},
   "encoding": {"x": {"datum": "Niihau"}, "y": {"datum": 463.8}, "text": {"field": "label"}}}
 ]
}
],
"config": {
 "view": {"stroke": "#4f4b4b", "strokeWidth": 3},
 "font": "Liberation Sans",
 "axis": {"labelFont": "Liberation Sans", "titleFont": "Liberation Sans", "labelFontWeight": "bold", "titleFontWeight": "bold", "labelColor": "#4f4b4b", "titleColor": "#4f4b4b", "domainColor": "#4f4b4b", "tickColor": "#4f4b4b", "domainWidth": 3, "tickWidth": 3, "grid": false, "labelOverlap": false, "labelBound": false, "labelFlush": false},
 "axisY": {"tickSize": 10, "labelPadding": 9, "labelFontSize": 31, "titleFontSize": 32, "titleAngle": 270, "titleBaseline": "middle", "titleAlign": "center", "minExtent": 146, "maxExtent": 146},
 "axisX": {"tickSize": 8, "bandPosition": -0.6905}
}
}
